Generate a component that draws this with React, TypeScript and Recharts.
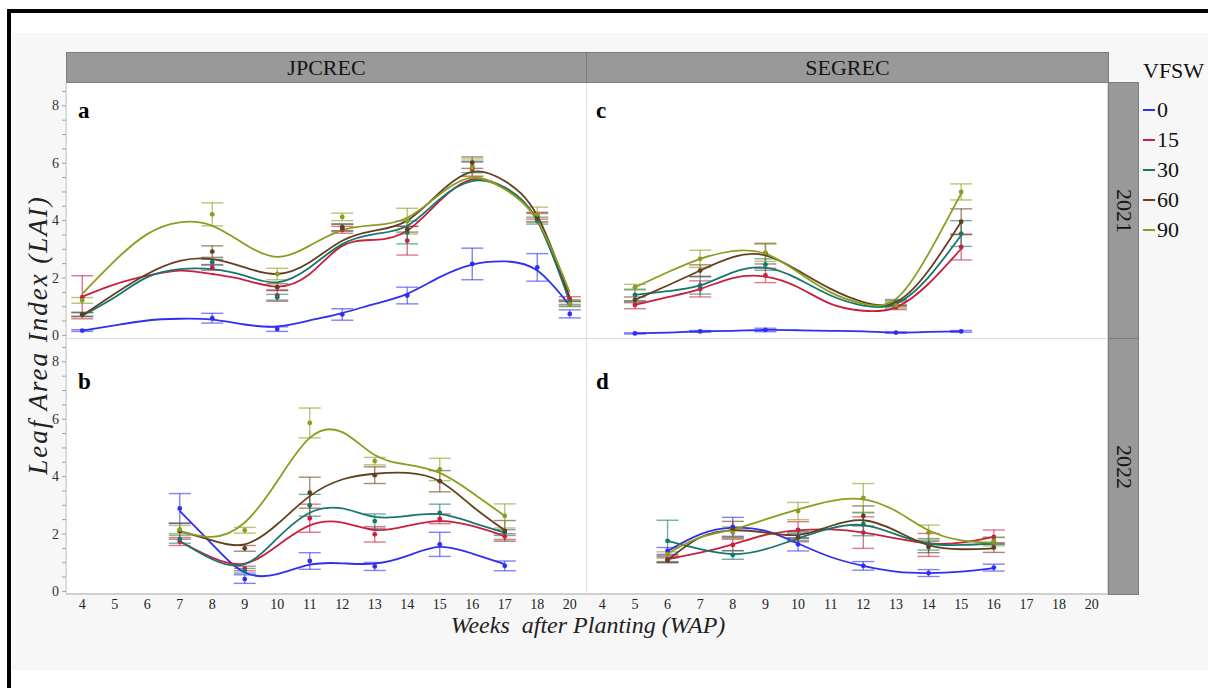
import React from "react";
import { ComposedChart, Line, XAxis, YAxis, ErrorBar } from "recharts";

// x categories (weeks after planting) and VFSW treatment levels
const weeks = ["4", "5", "6", "7", "8", "9", "10", "11", "12", "13", "14", "15", "16", "17", "18", "20"];
const levels = ["0", "15", "30", "60", "90"];
const yTicks = [0, 0.5, 1, 1.5, 2, 2.5, 3, 3.5, 4, 4.5, 5, 5.5, 6, 6.5, 7, 7.5, 8, 8.5];

// a: JPCREC 2021 — measured means (± SE) at the sampled weeks
const aIdx = [0, 4, 6, 8, 10, 12, 14, 15];
const aMean = [
  [0.17, 0.6, 0.22, 0.73, 1.39, 2.49, 2.37, 0.75],
  [1.33, 2.37, 1.39, 3.68, 3.3, 5.79, 4.17, 1.27],
  [0.73, 2.55, 1.33, 3.76, 3.59, 5.87, 4.0, 1.16],
  [0.73, 2.92, 1.68, 3.76, 3.7, 6.02, 4.1, 1.1],
  [1.22, 4.22, 2.14, 4.13, 3.98, 5.85, 4.22, 1.1],
];
const aErr = [
  [0.03, 0.17, 0.08, 0.2, 0.29, 0.55, 0.48, 0.14],
  [0.75, 0.1, 0.2, 0.12, 0.5, 0.25, 0.12, 0.08],
  [0.08, 0.1, 0.1, 0.12, 0.4, 0.2, 0.12, 0.08],
  [0.06, 0.2, 0.12, 0.12, 0.1, 0.2, 0.15, 0.08],
  [0.1, 0.4, 0.2, 0.13, 0.45, 0.3, 0.25, 0.1],
];
// smoothed fits, read at every week from the first one
const aFitFrom = 0;
const aFit = [
  [0.17, 0.35, 0.52, 0.58, 0.55, 0.38, 0.31, 0.52, 0.78, 1.1, 1.45, 2.03, 2.47, 2.58, 2.26, 1.04],
  [1.35, 1.78, 2.08, 2.26, 2.14, 1.93, 1.7, 2.14, 3.12, 3.33, 3.65, 4.69, 5.44, 5.15, 4.0, 1.22],
  [0.69, 1.33, 2.03, 2.31, 2.31, 2.08, 1.85, 2.37, 3.18, 3.53, 3.82, 4.75, 5.38, 5.15, 4.0, 1.16],
  [0.69, 1.45, 2.14, 2.6, 2.66, 2.37, 2.14, 2.55, 3.3, 3.65, 4.0, 4.98, 5.7, 5.38, 4.17, 1.33],
  [1.45, 2.6, 3.53, 3.94, 3.82, 3.18, 2.74, 3.13, 3.67, 3.84, 4.1, 4.92, 5.5, 5.09, 4.0, 1.5],
];

// b: JPCREC 2022
const bIdx = [3, 5, 7, 9, 11, 13];
const bMean = [
  [2.89, 0.43, 1.06, 0.87, 1.64, 0.89],
  [1.74, 0.8, 2.55, 1.99, 2.53, 1.91],
  [1.82, 0.72, 3.0, 2.45, 2.74, 2.05],
  [2.1, 1.5, 3.44, 4.05, 3.84, 2.11],
  [2.16, 2.13, 5.87, 4.54, 4.25, 2.63],
];
const bErr = [
  [0.52, 0.15, 0.29, 0.14, 0.42, 0.17],
  [0.14, 0.08, 0.49, 0.27, 0.17, 0.1],
  [0.14, 0.08, 0.38, 0.25, 0.3, 0.1],
  [0.28, 0.1, 0.54, 0.29, 0.37, 0.36],
  [0.14, 0.1, 0.52, 0.13, 0.39, 0.42],
];
const bFitFrom = 3;
const bFit = [
  [2.8, 1.64, 0.66, 0.6, 0.93, 0.98, 0.97, 1.24, 1.55, 1.32, 0.95],
  [1.74, 1.18, 0.97, 1.59, 2.3, 2.4, 2.14, 2.28, 2.45, 2.28, 1.93],
  [1.76, 1.12, 0.95, 1.85, 2.74, 2.89, 2.6, 2.63, 2.69, 2.4, 2.05],
  [2.1, 1.78, 1.64, 2.34, 3.32, 3.9, 4.1, 4.13, 3.84, 2.97, 2.13],
  [2.1, 1.9, 2.4, 3.84, 5.35, 5.55, 4.75, 4.42, 4.13, 3.44, 2.63],
];

// c: SEGREC 2021
const cIdx = [1, 3, 5, 9, 11];
const cMean = [
  [0.07, 0.14, 0.19, 0.1, 0.14],
  [1.06, 1.62, 2.09, 0.98, 3.08],
  [1.41, 1.74, 2.47, 1.15, 3.55],
  [1.24, 2.26, 2.85, 1.1, 3.96],
  [1.68, 2.67, 2.88, 1.05, 5.0],
];
const cErr = [
  [0.02, 0.03, 0.06, 0.02, 0.03],
  [0.13, 0.28, 0.25, 0.08, 0.45],
  [0.2, 0.3, 0.2, 0.1, 0.45],
  [0.1, 0.2, 0.36, 0.1, 0.45],
  [0.1, 0.3, 0.3, 0.1, 0.28],
];
const cFitFrom = 1;
const cFit = [
  [0.07, 0.1, 0.14, 0.16, 0.19, 0.18, 0.16, 0.14, 0.1, 0.12, 0.14],
  [1.06, 1.33, 1.62, 2.0, 2.05, 1.68, 1.1, 0.86, 0.98, 1.8, 3.02],
  [1.41, 1.54, 1.74, 2.2, 2.36, 1.97, 1.39, 1.04, 1.1, 2.03, 3.49],
  [1.24, 1.74, 2.26, 2.73, 2.79, 2.26, 1.62, 1.16, 1.16, 2.26, 3.96],
  [1.68, 2.2, 2.67, 2.94, 2.85, 2.2, 1.5, 1.1, 1.27, 2.85, 4.95],
];

// d: SEGREC 2022
const dIdx = [2, 4, 6, 8, 10, 12];
const dMean = [
  [1.41, 2.25, 1.64, 0.89, 0.64, 0.83],
  [1.12, 1.62, 2.14, 2.05, 1.62, 1.9],
  [1.76, 1.27, 1.93, 2.34, 1.64, 1.76],
  [1.09, 2.16, 1.88, 2.63, 1.55, 1.53],
  [1.3, 2.05, 2.8, 3.26, 2.05, 1.74],
];
const dErr = [
  [0.12, 0.33, 0.23, 0.15, 0.12, 0.12],
  [0.12, 0.2, 0.29, 0.55, 0.4, 0.24],
  [0.72, 0.15, 0.15, 0.4, 0.2, 0.12],
  [0.08, 0.28, 0.15, 0.35, 0.2, 0.17],
  [0.08, 0.2, 0.3, 0.5, 0.26, 0.15],
];
const dFitFrom = 2;
const dFit = [
  [1.41, 1.99, 2.22, 2.11, 1.67, 1.2, 0.89, 0.69, 0.64, 0.69, 0.81],
  [1.12, 1.35, 1.64, 1.97, 2.13, 2.16, 2.05, 1.85, 1.67, 1.7, 1.9],
  [1.76, 1.47, 1.3, 1.47, 1.85, 2.2, 2.31, 1.99, 1.67, 1.62, 1.67],
  [1.09, 1.88, 2.13, 2.05, 1.97, 2.28, 2.48, 2.11, 1.61, 1.47, 1.5],
  [1.32, 1.88, 2.16, 2.51, 2.86, 3.15, 3.21, 2.8, 2.13, 1.78, 1.7],
];

const colors = ["#2f2ff2", "#c8203f", "#17776d", "#62401f", "#8b9d1f"];
const serif = "'Liberation Serif', 'Times New Roman', serif";

const PANEL_H = 256;
const Y_AXIS_W = 60;
const X_AXIS_H = 30;
const PAD = 10; // room above/below the plot so edge tick labels are not clipped

type Panel = {
  idx: number[];
  mean: number[][];
  err: number[][];
  fitFrom: number;
  fit: number[][];
};

function buildRows(p: Panel) {
  return weeks.map((_, i) => {
    const row: Record<string, number | null> = { x: i };
    const j = p.idx.indexOf(i);
    levels.forEach((_, k) => {
      const f = i - p.fitFrom;
      row[`f${k}`] = f >= 0 && f < p.fit[k].length ? p.fit[k][f] : null;
      row[`m${k}`] = j >= 0 ? p.mean[k][j] : null;
      row[`e${k}`] = j >= 0 ? p.err[k][j] : null;
    });
    return row;
  });
}

const YTick = (props: any) => {
  const { x, y, payload } = props;
  const v = payload.value;
  const major = Math.abs(v % 2) < 1e-6;
  return (
    <g>
      <line x1={x - 4} x2={x} y1={y} y2={y} stroke="#a0a0a0" strokeWidth={1} />
      {major && (
        <text x={x - 7} y={y} dy={4.5} textAnchor="end" fontSize={14} fill="#333" fontFamily={serif}>
          {v}
        </text>
      )}
    </g>
  );
};

function PanelChart({ panel, left, top, width, showY, showX }: {
  panel: Panel; left: number; top: number; width: number; showY: boolean; showX: boolean;
}) {
  const rows = buildRows(panel);
  const w = width + (showY ? Y_AXIS_W : 0);
  const h = PANEL_H + (showX ? X_AXIS_H : 0) + PAD * 2;
  return (
    <div style={{ position: "absolute", left: left - (showY ? Y_AXIS_W : 0), top: top - PAD, width: w, height: h }}>
      <ComposedChart width={w} height={h} data={rows} margin={{ top: PAD, right: 0, bottom: PAD, left: 0 }}>
        <XAxis
          type="number"
          dataKey="x"
          domain={[-0.5, 15.5]}
          ticks={weeks.map((_, i) => i)}
          tickFormatter={(i: number) => weeks[i]}
          interval={0}
          allowDataOverflow
          hide={!showX}
          height={X_AXIS_H}
          tickLine={false}
          tickSize={0}
          tickMargin={5}
          axisLine={{ stroke: "#cfcfcf", strokeWidth: 2 }}
          tick={{ fontSize: 14, fill: "#222", fontFamily: serif }}
        />
        <YAxis
          type="number"
          domain={[-0.09, 8.83]}
          ticks={yTicks}
          interval={0}
          allowDataOverflow
          hide={!showY}
          width={Y_AXIS_W}
          tickLine={false}
          tickSize={0}
          tickMargin={0}
          axisLine={{ stroke: "#cfcfcf" }}
          tick={<YTick />}
        />
        {levels.map((lv, k) => (
          <Line
            key={`m${k}`}
            dataKey={`m${k}`}
            name={`${lv} mean`}
            stroke="none"
            dot={{ r: 2.4, fill: colors[k], stroke: colors[k], strokeWidth: 0 }}
            activeDot={false}
            legendType="none"
            isAnimationActive={false}
          >
            <ErrorBar dataKey={`e${k}`} width={11} stroke={colors[k]} strokeOpacity={0.6} strokeWidth={1.4} />
          </Line>
        ))}
        {levels.map((lv, k) => (
          <Line
            key={`f${k}`}
            type="natural"
            dataKey={`f${k}`}
            name={lv}
            stroke={colors[k]}
            strokeWidth={1.8}
            dot={false}
            activeDot={false}
            isAnimationActive={false}
          />
        ))}
      </ComposedChart>
    </div>
  );
}

const strip: React.CSSProperties = {
  position: "absolute",
  boxSizing: "border-box",
  background: "#999999",
  border: "1px solid #7c7c7c",
  display: "flex",
  alignItems: "center",
  justifyContent: "center",
  color: "#151515",
  fontFamily: serif,
  fontSize: 22,
};

const letter: React.CSSProperties = {
  position: "absolute",
  fontFamily: serif,
  fontWeight: "bold",
  fontSize: 23,
  color: "#000",
  lineHeight: 1,
};

export default function App() {
  const panels = {
    a: { idx: aIdx, mean: aMean, err: aErr, fitFrom: aFitFrom, fit: aFit },
    b: { idx: bIdx, mean: bMean, err: bErr, fitFrom: bFitFrom, fit: bFit },
    c: { idx: cIdx, mean: cMean, err: cErr, fitFrom: cFitFrom, fit: cFit },
    d: { idx: dIdx, mean: dMean, err: dErr, fitFrom: dFitFrom, fit: dFit },
  };
  return (
    <div style={{ position: "absolute", left: 0, top: 0, width: 1208, height: 688, background: "#fff", overflow: "hidden" }}>
      {/* outer frame */}
      <div style={{ position: "absolute", left: 7, top: 9, width: 1300, height: 800, border: "4px solid #000" }} />
      <div style={{ position: "absolute", left: 12, top: 33, width: 1196, height: 637, background: "#f7f7f7" }} />

      {/* plot background and facet dividers */}
      <div style={{ position: "absolute", left: 66, top: 82, width: 1042, height: 512, background: "#fff", boxSizing: "border-box", border: "1px solid #dadada" }} />
      <div style={{ position: "absolute", left: 586, top: 82, width: 1, height: 512, background: "#e3e3e3" }} />
      <div style={{ position: "absolute", left: 66, top: 338, width: 1042, height: 1, background: "#dcdcdc" }} />

      {/* facet strips */}
      <div style={{ ...strip, left: 66, top: 52, width: 521, height: 31 }}>JPCREC</div>
      <div style={{ ...strip, left: 586, top: 52, width: 523, height: 31 }}>SEGREC</div>
      <div style={{ ...strip, left: 1108, top: 82, width: 31, height: 257 }}>
        <span style={{ transform: "rotate(90deg)", display: "inline-block" }}>2021</span>
      </div>
      <div style={{ ...strip, left: 1108, top: 338, width: 31, height: 257 }}>
        <span style={{ transform: "rotate(90deg)", display: "inline-block" }}>2022</span>
      </div>

      <PanelChart panel={panels.a} left={66} top={82} width={520} showY showX={false} />
      <PanelChart panel={panels.b} left={66} top={338} width={520} showY showX />
      <PanelChart panel={panels.c} left={586} top={82} width={522} showY={false} showX={false} />
      <PanelChart panel={panels.d} left={586} top={338} width={522} showY={false} showX />

      {/* panel tags */}
      <div style={{ ...letter, left: 78, top: 99 }}>a</div>
      <div style={{ ...letter, left: 78, top: 370 }}>b</div>
      <div style={{ ...letter, left: 596, top: 99 }}>c</div>
      <div style={{ ...letter, left: 596, top: 370 }}>d</div>

      {/* axis titles */}
      <div style={{ position: "absolute", left: 330, width: 516, top: 612, textAlign: "center", fontFamily: serif, fontStyle: "italic", fontSize: 24, color: "#222", whiteSpace: "pre" }}>
        {"Weeks  after Planting (WAP)"}
      </div>
      <div style={{ position: "absolute", left: 38, top: 335, width: 0, height: 0 }}>
        <div style={{ position: "absolute", left: -200, top: -16, width: 400, textAlign: "center", transform: "rotate(-90deg)", fontFamily: serif, fontStyle: "italic", fontSize: 27, letterSpacing: 2, color: "#222", whiteSpace: "pre", lineHeight: "32px" }}>
          Leaf Area Index (LAI)
        </div>
      </div>

      {/* legend */}
      <div style={{ position: "absolute", left: 1143, top: 60, fontFamily: serif, fontSize: 22, color: "#111", lineHeight: 1 }}>VFSW</div>
      {levels.map((lv, k) => (
        <div key={lv} style={{ position: "absolute", left: 1143, top: 99 + k * 30, display: "flex", alignItems: "center", fontFamily: serif, fontSize: 22, color: "#111", lineHeight: 1 }}>
          <span style={{ display: "inline-block", width: 12, height: 2, background: colors[k], marginRight: 2 }} />
          {lv}
        </div>
      ))}
    </div>
  );
}
